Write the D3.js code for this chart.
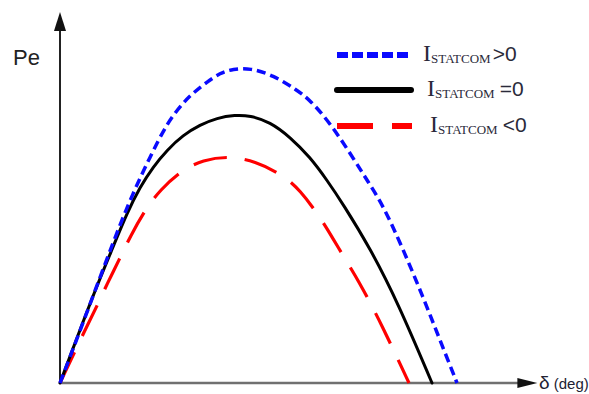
<!DOCTYPE html>
<html>
<head>
<meta charset="utf-8">
<script src="https://cdn.jsdelivr.net/npm/d3@7"></script>
<style>
  html, body { margin: 0; padding: 0; background: #fff; }
  svg { display: block; }
</style>
</head>
<body>
<svg id="chart" width="589" height="394"></svg>
<script>
// delta (deg) / Pe (p.u.) points
var deltaPos = [0, 12.10, 26.61, 35.32, 43.55, 51.77, 59.52, 64.35, 71.13, 77.42, 83.71, 91.94, 103.06, 114.68, 120.97, 130.65, 140.32, 148.55, 156.29, 165.97, 175.65, 183.87, 192.10];
var pePos    = [0, 0.243, 0.545, 0.709, 0.843, 0.970, 1.045, 1.082, 1.123, 1.157, 1.172, 1.175, 1.149, 1.093, 1.056, 0.970, 0.858, 0.757, 0.664, 0.500, 0.321, 0.160, 0];

var deltaZero = [0, 15.97, 25.65, 32.42, 38.71, 45.0, 51.77, 59.52, 67.74, 75.97, 84.68, 91.94, 101.61, 111.29, 120.97, 129.19, 136.94, 150.0, 163.55, 180];
var peZero    = [0, 0.328, 0.507, 0.634, 0.731, 0.806, 0.869, 0.925, 0.963, 0.989, 1.0, 0.998, 0.974, 0.918, 0.843, 0.757, 0.668, 0.504, 0.299, 0];

var deltaNeg = [0, 12.10, 17.90, 22.74, 29.03, 33.87, 41.13, 48.39, 59.03, 69.19, 81.29, 94.35, 107.90, 116.13, 125.81, 131.61, 138.87, 144.19, 151.45, 156.29, 162.58, 168.87];
var peNeg    = [0, 0.198, 0.287, 0.369, 0.466, 0.545, 0.646, 0.720, 0.795, 0.832, 0.847, 0.828, 0.776, 0.720, 0.619, 0.545, 0.451, 0.384, 0.280, 0.205, 0.104, 0];

var seriesNames = ["pos", "zero", "neg"];
var seriesOps = [">0", "=0", "<0"];

var svg = d3.select("#chart");

var x = d3.scaleLinear().domain([0, 230]).range([60, 60 + 230 * 372 / 180]);
var y = d3.scaleLinear().domain([0, 1]).range([383, 115]);

var styles = {
	pos:  {color: "#0a0aff", width: 3.5, dash: "9,5",   legDash: "11,4"},
	zero: {color: "#000",    width: 3,   dash: null,    legDash: null},
	neg:  {color: "#ff0000", width: 3.2, dash: "34,18", legDash: "36,19"}
};

function pts(xs, ys){
	return xs.map(function(d, i){ return [d, ys[i]]; });
}
var series = [
	{key: "pos",  data: pts(deltaPos, pePos)},
	{key: "zero", data: pts(deltaZero, peZero)},
	{key: "neg",  data: pts(deltaNeg, peNeg)}
];

var line = d3.line()
	.x(function(d){ return x(d[0]); })
	.y(function(d){ return y(d[1]); })
	.curve(d3.curveBasis);

// axes
var xEnd = 231;
svg.append("line")
	.attr("x1", x(0)).attr("y1", y(0))
	.attr("x2", x(xEnd) - 18).attr("y2", y(0))
	.attr("stroke", "#707070").attr("stroke-width", 2.5);
svg.append("path")
	.attr("d", "M" + x(xEnd) + "," + y(0) + "l-20,-5l0,10z")
	.attr("fill", "#111");

var yTop = 1.384;
svg.append("line")
	.attr("x1", x(0)).attr("y1", y(0))
	.attr("x2", x(0)).attr("y2", y(yTop) + 16)
	.attr("stroke", "#222").attr("stroke-width", 2);
svg.append("path")
	.attr("d", "M" + x(0) + "," + y(yTop) + "l-6,19l12,0z")
	.attr("fill", "#111");

// curves (red under black under blue)
var order = ["neg", "zero", "pos"];
order.forEach(function(k){
	var s = series.filter(function(d){ return d.key === k; })[0];
	var st = styles[k];
	svg.append("path")
		.attr("d", line(s.data))
		.attr("fill", "none")
		.attr("stroke", st.color)
		.attr("stroke-width", st.width)
		.attr("stroke-dasharray", st.dash)
		.attr("stroke-linecap", k === "zero" ? "round" : "butt");
});

// axis labels
svg.append("text")
	.attr("x", 13).attr("y", 65)
	.attr("font-family", "Liberation Sans, Arial, sans-serif")
	.attr("font-size", 22)
	.attr("fill", "#222")
	.text("Pe");

var xl = svg.append("text")
	.attr("x", 539).attr("y", 389)
	.attr("font-family", "Liberation Sans, Arial, sans-serif")
	.attr("fill", "#223");
xl.append("tspan").attr("font-size", 19).text("δ");
xl.append("tspan").attr("font-size", 15).text(" (deg)");

// legend
var legY = [55, 90, 126];
var legTextX = [423, 427, 430];
var legEndX = [410, 411, 412];
seriesNames.forEach(function(k, i){
	var st = styles[k];
	svg.append("line")
		.attr("x1", 337).attr("x2", legEndX[i])
		.attr("y1", legY[i]).attr("y2", legY[i])
		.attr("stroke", st.color)
		.attr("stroke-width", 6)
		.attr("stroke-dasharray", st.legDash)
		.attr("stroke-linecap", k === "zero" ? "round" : "butt");

	var t = svg.append("text")
		.attr("x", legTextX[i]).attr("y", legY[i] + 6)
		.attr("fill", "#2a2a3a");
	t.append("tspan")
		.attr("font-family", "Liberation Serif, Times New Roman, serif")
		.attr("font-size", 24)
		.text("I");
	t.append("tspan")
		.attr("font-family", "Liberation Serif, Times New Roman, serif")
		.attr("font-size", 13)
		.attr("dy", 1.5)
		.text("STATCOM");
	t.append("tspan")
		.attr("font-family", "Liberation Sans, Arial, sans-serif")
		.attr("font-size", 21)
		.attr("dy", -1.5)
		.attr("dx", i === 0 ? 2 : 5)
		.text(seriesOps[i]);
});
</script>
</body>
</html>
